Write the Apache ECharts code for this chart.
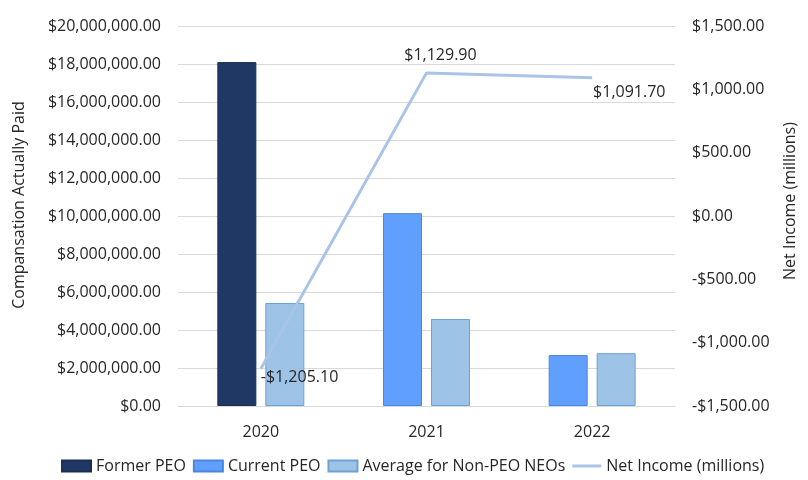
<!DOCTYPE html>
<html><head><meta charset="utf-8">
<script src="https://cdn.jsdelivr.net/npm/echarts@6/dist/echarts.min.js"></script>
<style>html,body{margin:0;padding:0;background:#fff}#c{width:808px;height:480px}</style>
</head><body><div id="c"></div>
<script>
const years = ['2020', '2021', '2022'];
const formerPEO = [18100000, null, null];
const currentPEO = [null, 10150000, 2680000];
const avgNonPEO = [5420000, 4580000, 2780000];
const netIncome = [-1205.10, 1129.90, 1091.70];
const leftTicks = {min: 0, max: 20000000, interval: 2000000};
const rightTicks = {min: -1500, max: 1500, interval: 500};

const FONT = 'Open Sans';
function money(v) {
  const s = Math.abs(v).toLocaleString('en-US', {minimumFractionDigits: 2, maximumFractionDigits: 2});
  return (v < 0 ? '-$' : '$') + s;
}
const chart = echarts.init(document.getElementById('c'), null, {renderer: 'canvas'});
const txt = '#262626';
chart.setOption({
  animation: false,
  textStyle: {fontFamily: FONT, color: txt},
  grid: {left: 178, right: 133, top: 26, bottom: 74, outerBoundsMode: 'none', containLabel: false},
  legend: {
    bottom: 1, left: 56, itemWidth: 29, itemHeight: 11, itemGap: 7,
    textStyle: {fontFamily: FONT, fontSize: 16, color: txt},
    data: [
      {name: 'Former PEO', icon: 'rect'}, {name: 'Current PEO', icon: 'rect'},
      {name: 'Average for Non-PEO NEOs', icon: 'rect'},
      {name: 'Net Income (millions)', icon: 'path://M0,4 L29,4 L29,7 L0,7 Z'}
    ]
  },
  xAxis: {
    type: 'category', data: years,
    axisLine: {show: true, lineStyle: {color: '#d9d9d9'}},
    axisTick: {show: false},
    axisLabel: {fontSize: 16, color: txt, margin: 18, fontFamily: FONT}
  },
  yAxis: [
    {
      type: 'value', min: leftTicks.min, max: leftTicks.max, interval: leftTicks.interval,
      name: 'Compansation Actually Paid', nameLocation: 'middle', nameGap: 151, nameRotate: 90,
      nameTextStyle: {fontSize: 16, color: txt, fontFamily: FONT, padding: [0, 0, 0, 22]},
      axisLine: {show: false}, axisTick: {show: false},
      axisLabel: {fontSize: 16, color: txt, margin: 17, formatter: money, fontFamily: FONT},
      splitLine: {lineStyle: {color: '#d9d9d9'}}
    },
    {
      type: 'value', min: rightTicks.min, max: rightTicks.max, interval: rightTicks.interval,
      name: 'Net Income (millions)', nameLocation: 'middle', nameGap: 107, nameRotate: 90,
      nameTextStyle: {fontSize: 16, color: txt, fontFamily: FONT, padding: [0, 0, 0, 30]},
      axisLine: {show: false}, axisTick: {show: false},
      axisLabel: {fontSize: 16, color: txt, margin: 17, formatter: money, fontFamily: FONT},
      splitLine: {show: false}
    }
  ],
  series: [
    {name: 'Former PEO', type: 'bar', stack: 'peo', data: formerPEO, barWidth: 39, barGap: '23%',
     itemStyle: {color: '#203864', borderColor: '#1a2f55', borderWidth: 1}},
    {name: 'Current PEO', type: 'bar', stack: 'peo', data: currentPEO, barWidth: 39,
     itemStyle: {color: '#619FFF', borderColor: '#4a86e0', borderWidth: 1}},
    {name: 'Average for Non-PEO NEOs', type: 'bar', data: avgNonPEO, barWidth: 39, barGap: '23%',
     itemStyle: {color: '#9DC3E6', borderColor: '#6FA0D6', borderWidth: 1}},
    {name: 'Net Income (millions)', type: 'line', yAxisIndex: 1, data: netIncome,
     symbol: 'circle', symbolSize: 0.1, showSymbol: true,
     lineStyle: {color: '#A9C4E6', width: 3}, itemStyle: {color: '#A9C4E6'},
     label: {show: true, fontSize: 16, color: txt, fontFamily: FONT,
       formatter: p => money(p.value), position: 'right'},
     labelLayout: function (p) {
       const i = p.dataIndex;
       const x = p.rect.x, y = p.rect.y + p.rect.height / 2;
       if (i === 0) return {x: x + 0, y: y + 9, align: 'left', verticalAlign: 'middle'};
       if (i === 1) return {x: x + 14, y: y - 17, align: 'center', verticalAlign: 'middle'};
       return {x: x + 1, y: y + 15, align: 'left', verticalAlign: 'middle'};
     }
    }
  ]
});
</script></body></html>
